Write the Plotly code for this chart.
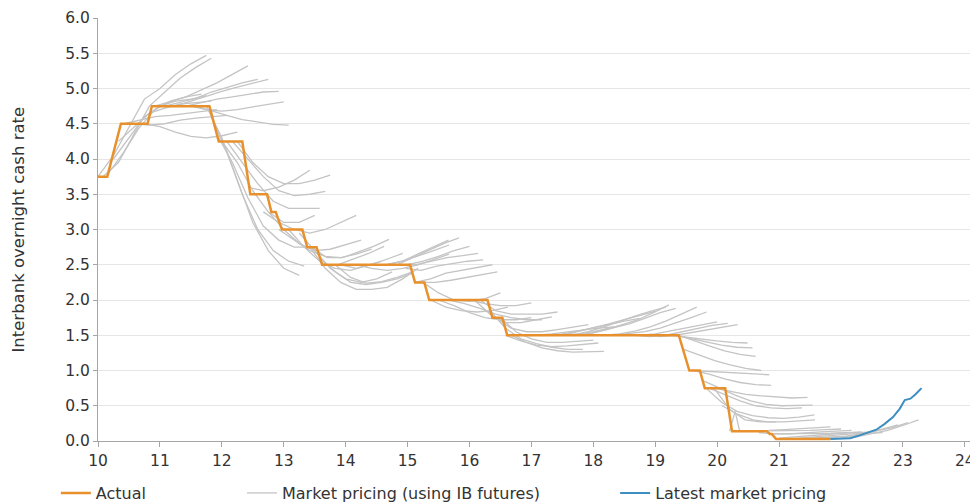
import plotly.graph_objects as go

# ---------------- data ----------------
x_ticks = list(range(10, 25))
y_ticks = [0.0, 0.5, 1.0, 1.5, 2.0, 2.5, 3.0, 3.5, 4.0, 4.5, 5.0, 5.5, 6.0]

actual_x = [10.0, 10.15, 10.37, 10.8, 10.87, 11.8, 11.95, 12.33, 12.46, 12.73, 12.8, 12.87,
            12.97, 13.3, 13.38, 13.53, 13.62, 15.04, 15.12, 15.27, 15.35, 16.29, 16.37,
            16.53, 16.61, 19.38, 19.55, 19.72, 19.8, 20.13, 20.24, 20.8, 20.85, 20.88,
            20.95, 21.83]
actual_y = [3.75, 3.75, 4.5, 4.5, 4.75, 4.75, 4.25, 4.25, 3.5, 3.5, 3.25, 3.25,
            3.0, 3.0, 2.75, 2.75, 2.5, 2.5, 2.25, 2.25, 2.0, 2.0, 1.75,
            1.75, 1.5, 1.5, 1.0, 1.0, 0.75, 0.75, 0.14, 0.14, 0.1, 0.1,
            0.03, 0.03]

latest_x = [21.83, 22.0, 22.15, 22.3, 22.45, 22.57, 22.7, 22.84, 22.95, 23.03, 23.12, 23.2, 23.3]
latest_y = [0.03, 0.03, 0.04, 0.08, 0.12, 0.16, 0.24, 0.34, 0.46, 0.58, 0.6, 0.66, 0.75]

# market pricing curves: start date (years) and values every quarter-year
pricing_step = 0.25
pricing_starts = [
    10.0, 10.08, 10.17, 10.25, 10.33, 10.42, 10.58, 10.75, 10.92, 11.08, 11.25, 11.42, 11.5, 11.58,
    11.75, 11.83, 11.92, 12.0, 12.08, 12.17, 12.25, 12.42, 12.67, 12.75, 12.92, 13.08, 13.25, 13.42, 13.58,
    13.45, 13.62, 13.92, 13.83, 14.17, 14.42,
    14.58, 14.66, 15.0, 14.89, 14.97, 15.12, 15.2, 15.25, 15.37, 15.5, 15.67,
    16.0, 16.17, 16.08, 16.42, 16.5, 16.58, 16.67, 16.33,
    16.83, 17.0, 17.25, 17.5, 17.67, 17.83, 17.72, 18.17, 18.33, 18.5, 18.67, 18.83,
    19.24, 19.32, 19.37, 19.46, 19.59, 19.62, 19.96, 19.79, 19.87, 19.82, 20.08, 19.95,
    20.33, 20.5, 20.67, 20.83, 21.0, 21.17, 21.33, 21.5, 21.42,
]
pricing_values = [
    [3.75, 4.05, 4.45, 4.85, 5.0, 5.2, 5.35, 5.47],
    [3.75, 3.95, 4.35, 4.75, 4.95, 5.15, 5.3, 5.43],
    [3.8, 4.1, 4.45, 4.7, 4.82, 4.88, 4.92],
    [4.0, 4.3, 4.6, 4.75, 4.82, 4.85, 4.9],
    [4.25, 4.45, 4.65, 4.72, 4.78, 4.8, 4.82],
    [4.5, 4.55, 4.6, 4.62, 4.65, 4.68, 4.7],
    [4.5, 4.48, 4.5, 4.55, 4.58, 4.6, 4.62],
    [4.5, 4.46, 4.38, 4.32, 4.3, 4.33, 4.38],
    [4.75, 4.82, 4.88, 4.98, 5.08, 5.2, 5.32],
    [4.75, 4.8, 4.86, 4.95, 5.02, 5.08, 5.13],
    [4.75, 4.82, 4.9, 4.96, 5.02, 5.08, 5.13],
    [4.75, 4.8, 4.85, 4.88, 4.92, 4.95, 4.96],
    [4.75, 4.7, 4.68, 4.7, 4.74, 4.78, 4.81],
    [4.75, 4.68, 4.62, 4.56, 4.52, 4.49, 4.48],
    [4.75, 4.3, 3.7, 3.1, 2.7, 2.45, 2.35],
    [4.6, 4.1, 3.5, 3.0, 2.7, 2.55, 2.48],
    [4.35, 3.95, 3.45, 3.05, 2.85, 2.75, 2.75],
    [4.25, 3.95, 3.55, 3.25, 3.1, 3.1, 3.2],
    [4.25, 3.95, 3.65, 3.4, 3.3, 3.3, 3.3],
    [4.25, 4.0, 3.75, 3.55, 3.48, 3.5, 3.54],
    [4.25, 3.95, 3.75, 3.65, 3.65, 3.7, 3.77],
    [3.6, 3.55, 3.6, 3.7, 3.84],
    [3.25, 3.1, 3.0, 2.95, 3.0, 3.1, 3.2],
    [3.25, 3.0, 2.8, 2.7, 2.72, 2.78, 2.85],
    [3.0, 2.85, 2.7, 2.62, 2.6, 2.65, 2.72],
    [3.0, 2.75, 2.55, 2.45, 2.42, 2.48, 2.55],
    [2.95, 2.7, 2.45, 2.3, 2.25, 2.3, 2.4],
    [2.75, 2.45, 2.25, 2.15, 2.15, 2.18, 2.3, 2.45],
    [2.6, 2.4, 2.25, 2.22, 2.25, 2.3, 2.38],
    [2.75, 2.6, 2.6, 2.68, 2.76, 2.86],
    [2.5, 2.5, 2.58, 2.66, 2.76],
    [2.5, 2.45, 2.5, 2.58, 2.66],
    [2.5, 2.32, 2.24, 2.26, 2.32, 2.4],
    [2.5, 2.45, 2.42, 2.45, 2.5, 2.58, 2.65],
    [2.5, 2.5, 2.55, 2.62, 2.7, 2.78],
    [2.5, 2.5, 2.6, 2.7, 2.8, 2.88],
    [2.5, 2.55, 2.65, 2.75, 2.85],
    [2.5, 2.55, 2.62, 2.7, 2.76],
    [2.5, 2.5, 2.55, 2.6, 2.63, 2.66],
    [2.45, 2.42, 2.48, 2.52, 2.55, 2.57],
    [2.25, 2.3, 2.38, 2.42, 2.46, 2.5],
    [2.25, 2.25, 2.28, 2.32, 2.36, 2.4],
    [2.25, 2.1, 2.0, 1.98, 2.02, 2.1],
    [2.0, 1.9, 1.85, 1.83, 1.85, 1.9],
    [2.0, 1.92, 1.82, 1.75, 1.72, 1.72, 1.75],
    [2.0, 1.95, 1.88, 1.8, 1.75, 1.72, 1.72],
    [2.0, 1.95, 1.92, 1.92, 1.96],
    [2.0, 1.85, 1.8, 1.8, 1.8, 1.83],
    [2.0, 1.8, 1.68, 1.68, 1.72, 1.76],
    [1.75, 1.6, 1.55, 1.55, 1.58, 1.62, 1.65],
    [1.75, 1.55, 1.45, 1.4, 1.4, 1.42, 1.43],
    [1.5, 1.42, 1.36, 1.34, 1.35, 1.37, 1.39],
    [1.5, 1.4, 1.32, 1.28, 1.26, 1.26, 1.27],
    [1.85, 1.6, 1.45, 1.38, 1.33, 1.3, 1.3],
    [1.5, 1.5, 1.52, 1.55, 1.58, 1.6, 1.62],
    [1.5, 1.5, 1.5, 1.52, 1.55, 1.6, 1.65],
    [1.5, 1.52, 1.56, 1.6, 1.65, 1.7, 1.74],
    [1.5, 1.55, 1.6, 1.66, 1.72, 1.78, 1.84],
    [1.5, 1.55, 1.62, 1.7, 1.77, 1.84, 1.9],
    [1.5, 1.55, 1.6, 1.66, 1.74, 1.82, 1.88],
    [1.5, 1.53, 1.58, 1.65, 1.72, 1.82, 1.93],
    [1.5, 1.52, 1.56, 1.62, 1.7, 1.8, 1.9],
    [1.5, 1.52, 1.55, 1.6, 1.67, 1.75, 1.83],
    [1.5, 1.5, 1.52, 1.56, 1.6, 1.65, 1.69],
    [1.5, 1.48, 1.5, 1.55, 1.6, 1.64, 1.67],
    [1.5, 1.48, 1.5, 1.54, 1.58, 1.62, 1.65],
    [1.5, 1.47, 1.44, 1.42, 1.4, 1.39],
    [1.5, 1.45, 1.4, 1.36, 1.33, 1.32],
    [1.5, 1.42, 1.35, 1.28, 1.23, 1.2],
    [1.3, 1.22, 1.14, 1.08, 1.03, 1.0],
    [1.0, 0.99, 0.97, 0.96, 0.95, 0.94],
    [1.0, 0.95, 0.88, 0.83, 0.8, 0.79],
    [0.75, 0.7, 0.66, 0.64, 0.62, 0.61, 0.62],
    [0.85, 0.75, 0.65, 0.57, 0.52, 0.5, 0.5, 0.51],
    [0.75, 0.66, 0.57, 0.5, 0.47, 0.46, 0.47],
    [0.75, 0.55, 0.42, 0.36, 0.33, 0.32, 0.34, 0.37],
    [0.5, 0.38, 0.3, 0.27, 0.27, 0.28, 0.3],
    [0.75, 0.45, 0.3, 0.27, 0.27],
    [0.14, 0.14, 0.15, 0.16, 0.17, 0.18, 0.2],
    [0.14, 0.14, 0.14, 0.15, 0.15, 0.16, 0.17],
    [0.12, 0.1, 0.1, 0.12, 0.13, 0.14, 0.15],
    [0.1, 0.1, 0.1, 0.1, 0.11, 0.12, 0.13],
    [0.04, 0.06, 0.08, 0.1, 0.11, 0.12, 0.13],
    [0.03, 0.05, 0.07, 0.08, 0.1, 0.11, 0.12],
    [0.03, 0.04, 0.05, 0.07, 0.1, 0.14, 0.19, 0.26],
    [0.03, 0.03, 0.04, 0.06, 0.1, 0.15, 0.22, 0.3],
    [0.03, 0.04, 0.05, 0.07, 0.11, 0.17, 0.23],
]
spike_x = [20.2, 20.29, 20.36, 20.6]
spike_y = [0.14, 0.42, 0.15, 0.14]

y_title = "Interbank overnight cash rate"

# ---------------- styling ----------------
FONT = "DejaVu Sans"
ORANGE = "#E8912C"
GREY = "#C4C4C4"
BLUE = "#3D8FC1"
TXT = "#333333"

fig = go.Figure()

for i, (s, vals) in enumerate(zip(pricing_starts, pricing_values)):
    xs = [s + k * pricing_step for k in range(len(vals))]
    fig.add_trace(go.Scatter(x=xs, y=vals, mode="lines",
                             line=dict(color=GREY, width=1.3),
                             name="Market pricing (using IB futures)",
                             legendgroup="mp", showlegend=(i == 0),
                             legend="legend2", hoverinfo="skip"))
fig.add_trace(go.Scatter(x=spike_x, y=spike_y, mode="lines",
                         line=dict(color=GREY, width=1.3), showlegend=False,
                         legendgroup="mp", hoverinfo="skip"))

fig.add_trace(go.Scatter(x=actual_x, y=actual_y, mode="lines",
                         line=dict(color=ORANGE, width=2.5), name="Actual",
                         legend="legend"))
fig.add_trace(go.Scatter(x=latest_x, y=latest_y, mode="lines",
                         line=dict(color=BLUE, width=2), name="Latest market pricing",
                         legend="legend3"))

leg_common = dict(orientation="h", yanchor="middle", y=-0.123, xanchor="left",
                  font=dict(family=FONT, size=16, color=TXT),
                  bgcolor="rgba(0,0,0,0)", borderwidth=0)

# the page body adds an 8px offset, so the figure is 8px smaller and margins shifted
fig.update_layout(
    width=970, height=494,
    margin=dict(l=90, r=2, t=10, b=61, autoexpand=False),
    paper_bgcolor="white", plot_bgcolor="white",
    font=dict(family=FONT, size=15, color=TXT),
    legend=dict(x=-0.048, **leg_common),
    legend2=dict(x=0.164, **leg_common),
    legend3=dict(x=0.589, **leg_common),
    xaxis=dict(range=[10, 24.18], tickmode="array", tickvals=x_ticks,
               ticktext=[str(t) for t in x_ticks],
               showgrid=False, zeroline=False, showline=True,
               linecolor="#A6A6A6", linewidth=1, automargin=False,
               ticks="outside", ticklen=5, tickcolor="#A6A6A6",
               tickfont=dict(family=FONT, size=15.5, color=TXT)),
    yaxis=dict(range=[0, 6], tickmode="array", tickvals=y_ticks,
               ticktext=[f"{v:.1f}" for v in y_ticks],
               showgrid=True, gridcolor="#E6E6E6", gridwidth=1, zeroline=False,
               showline=True, linecolor="#A6A6A6", linewidth=1, automargin=False,
               ticks="outside", ticklen=4, tickcolor="#A6A6A6",
               tickfont=dict(family=FONT, size=15.5, color=TXT)),
    annotations=[dict(text=y_title, xref="paper", yref="paper",
                      x=-0.091, y=0.5, xanchor="center", yanchor="middle",
                      textangle=-90, showarrow=False,
                      font=dict(family=FONT, size=16.5, color=TXT))],
)

fig.write_html("out.html")
